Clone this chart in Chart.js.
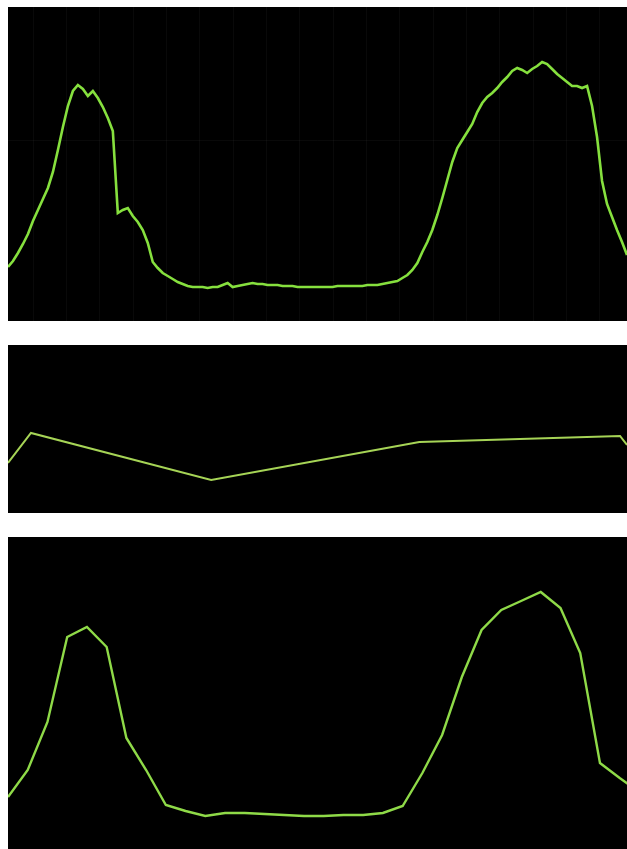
<!DOCTYPE html>
<html>
<head>
<meta charset="utf-8">
<script src="https://cdn.jsdelivr.net/npm/chart.js@4/dist/chart.umd.min.js"></script>
<style>
  body { margin: 0; background: #fff; width: 627px; height: 849px; overflow: hidden; }
  .panel { position: absolute; background: #000; }
  #p1 { left: 8px; top: 7px; width: 619px; height: 314px; }
  #p2 { left: 8px; top: 345px; width: 619px; height: 168px; }
  #p3 { left: 8px; top: 537px; width: 619px; height: 312px; }
</style>
</head>
<body>
<div class="panel" id="p1"><canvas id="chartTop"></canvas></div>
<div class="panel" id="p2"><canvas id="chartMid"></canvas></div>
<div class="panel" id="p3"><canvas id="chartBottom"></canvas></div>

<script>
// top panel: detailed readings, one per step
const topValues = [
  54, 60, 68, 77, 87, 100, 111, 122, 133, 149,
  171, 194, 215, 230, 236, 232, 225, 230, 223, 214,
  203, 190, 108, 111, 113, 105, 99, 91, 78, 59,
  53, 48, 45, 42, 39, 37, 35, 34, 34, 34,
  33, 34, 34, 36, 38, 34, 35, 36, 37, 38,
  37, 37, 36, 36, 36, 35, 35, 35, 34, 34,
  34, 34, 34, 34, 34, 34, 35, 35, 35, 35,
  35, 35, 36, 36, 36, 37, 38, 39, 40, 43,
  46, 51, 58, 69, 79, 91, 106, 123, 141, 159,
  173, 181, 189, 197, 209, 218, 224, 228, 233, 239,
  244, 250, 253, 251, 248, 252, 255, 259, 257, 252,
  247, 243, 239, 235, 235, 233, 235, 215, 184, 140,
  117, 104, 91, 79, 66
];

// middle panel: few points, x in the same step units as the top panel
const midX = [0, 4.6, 40.7, 82.4, 122.6, 124];
const midValues = [50, 80, 33, 71, 77, 68];

// bottom panel: coarser readings
const bottomValues = [
  52, 79, 127, 212, 222, 202, 111, 79, 44, 38,
  33, 36, 36, 35, 34, 33, 33, 34, 34, 36,
  43, 76, 114, 172, 219, 239, 248, 257, 241, 196,
  86, 71, 57
];

const gridColor = "rgba(255,255,255,0.035)";

function lineChart(id, points, color, width, xMax, yMax, withGrid) {
  const ctx = document.getElementById(id).getContext("2d");
  return new Chart(ctx, {
    type: "line",
    data: {
      datasets: [{
        data: points,
        borderColor: color,
        borderWidth: width,
        pointRadius: 0,
        tension: 0,
        fill: false
      }]
    },
    options: {
      responsive: true,
      maintainAspectRatio: false,
      animation: false,
      layout: { padding: 0 },
      plugins: { legend: { display: false }, tooltip: { enabled: false } },
      scales: {
        x: {
          type: "linear",
          min: 0,
          max: xMax,
          display: withGrid,
          ticks: { display: false },
          border: { display: false },
          grid: { color: gridColor, drawTicks: false },
          afterBuildTicks: axis => {
            const t = [];
            for (let k = 1; k <= 18; k++) t.push({ value: (33.3 * k - 8) / 4.99 });
            axis.ticks = t;
          }
        },
        y: {
          min: 0,
          max: yMax,
          display: withGrid,
          ticks: { display: false },
          border: { display: false },
          grid: { color: gridColor, drawTicks: false },
          afterBuildTicks: axis => { axis.ticks = [{ value: 181 }]; }
        }
      }
    }
  });
}

lineChart("chartTop", topValues.map((v, i) => ({ x: i, y: v })), "#86e03e", 2.6, 124, 314, true);
lineChart("chartMid", midValues.map((v, i) => ({ x: midX[i], y: v })), "#a6d456", 2, 124, 168, false);
lineChart("chartBottom", bottomValues.map((v, i) => ({ x: i, y: v })), "#8fda48", 2.4, 31.37, 312, false);
</script>
</body>
</html>
